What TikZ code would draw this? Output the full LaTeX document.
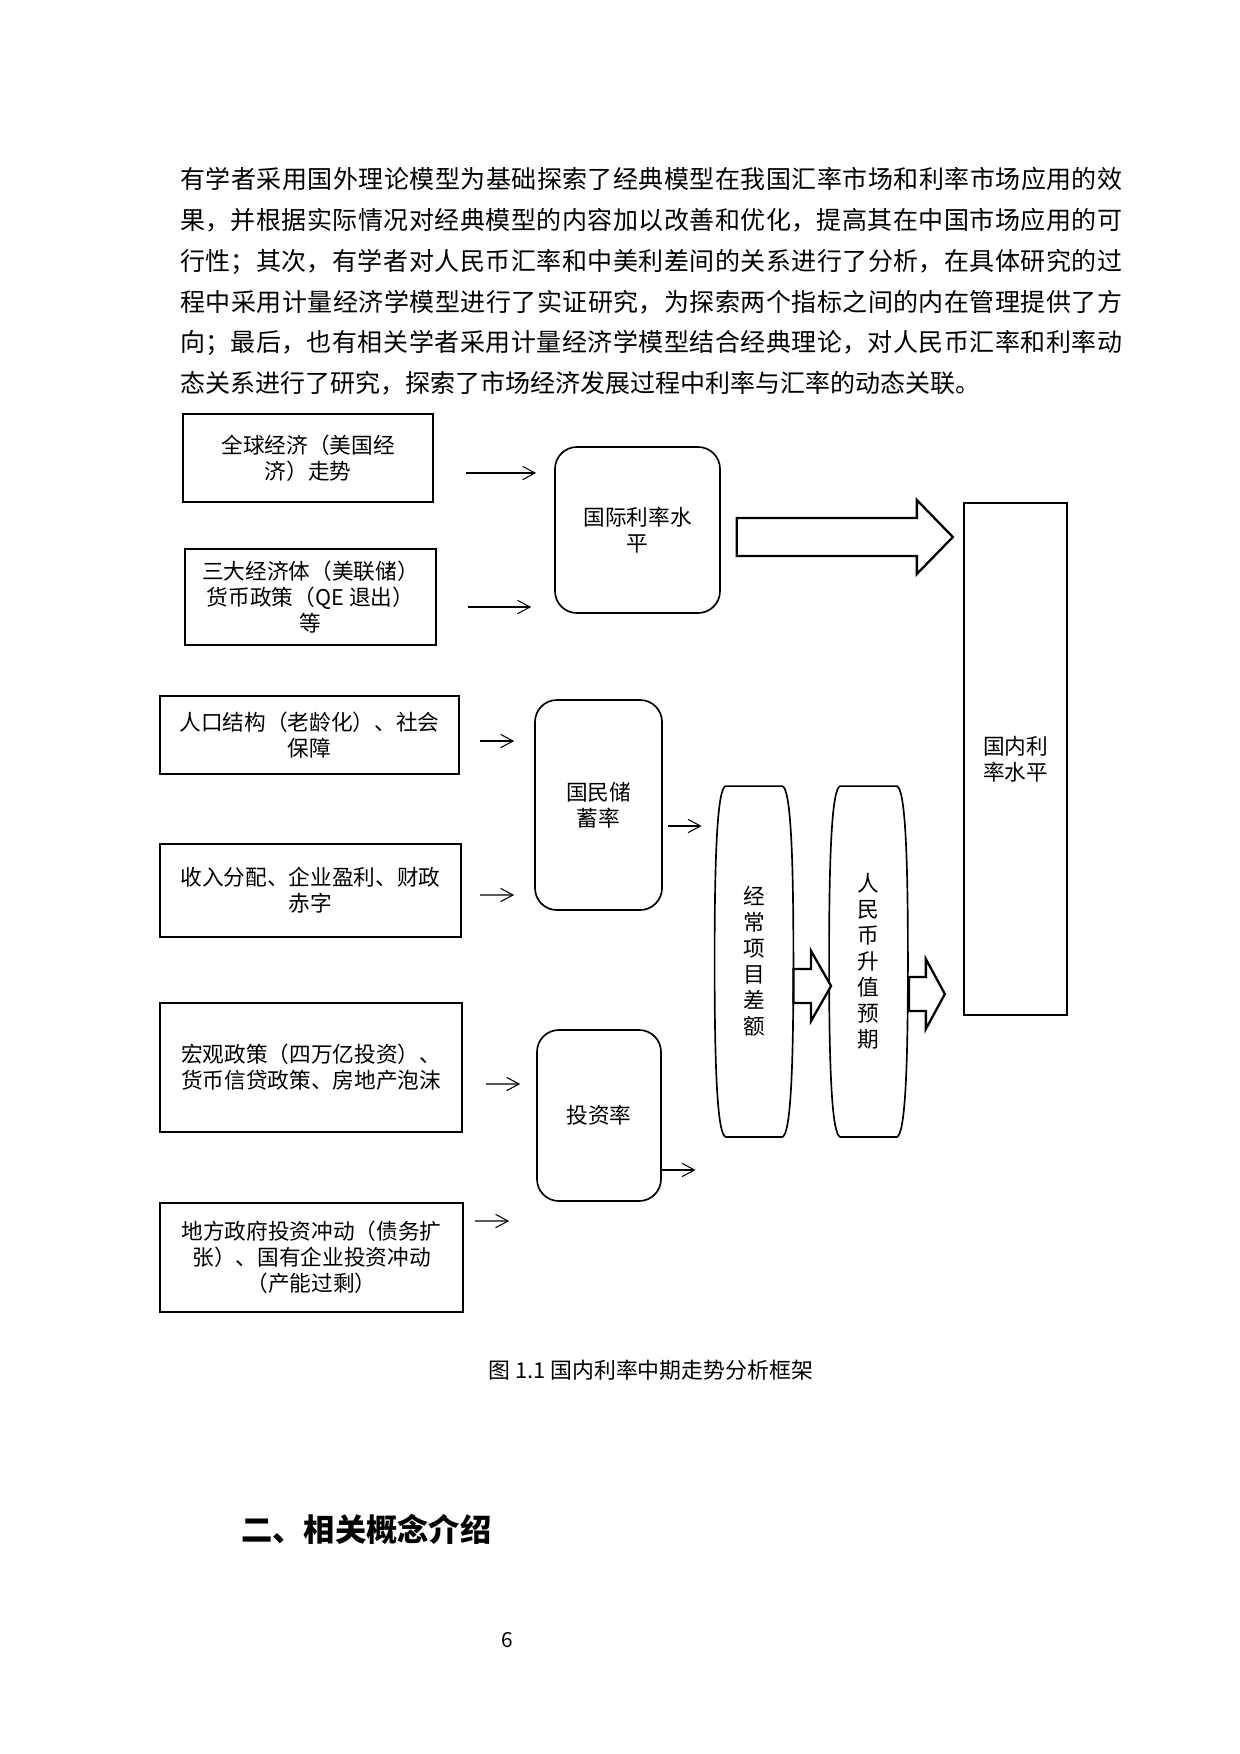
\documentclass[tikz,border=0pt]{standalone}
\usepackage{fontspec}
\setmainfont{Noto Sans CJK SC}
\usetikzlibrary{arrows.meta}
\usetikzlibrary{calc}
\XeTeXlinebreaklocale "zh"
\XeTeXlinebreakskip=0pt plus 1pt
\newcommand{\boxfont}{\fontsize{10.4pt}{12.5pt}\selectfont}
% fat arrow: start, tip, shaft half, head half, head length
\newcommand{\fatarrow}[5]{%
  \draw[fatline] ($(#1)+(0,-#3)$) -- ($(#2)+(-#5,-#3)$) -- ($(#2)+(-#5,-#4)$) -- (#2)
    -- ($(#2)+(-#5,#4)$) -- ($(#2)+(-#5,#3)$) -- ($(#1)+(0,#3)$) -- cycle;}
% barrel outline round a node
\newcommand{\barrel}[1]{%
  \draw[barrelline] ($(#1.north west)+(11,0)$) -- ($(#1.north east)+(-11,0)$)
    .. controls ($(#1.north east)+(-3,3)$) and ($(#1.east)+(0,-112)$) .. (#1.east)
    .. controls ($(#1.east)+(0,112)$) and ($(#1.south east)+(-3,-3)$) .. ($(#1.south east)+(-11,0)$)
    -- ($(#1.south west)+(11,0)$)
    .. controls ($(#1.south west)+(3,-3)$) and ($(#1.west)+(0,112)$) .. (#1.west)
    .. controls ($(#1.west)+(0,-112)$) and ($(#1.north west)+(3,3)$) .. ($(#1.north west)+(11,0)$) -- cycle;}
\begin{document}
\begin{tikzpicture}[x=0.48pt,y=-0.48pt,
    wh/.style 2 args={minimum width=#1*0.48pt,minimum height=#2*0.48pt},
    box/.style={draw,line width=1.1pt,align=center,inner sep=0pt,font=\boxfont},
    roundbox/.style={draw,line width=0.8pt,rounded corners=10.5pt,align=center,inner sep=0pt,font=\boxfont},
    barrelbox/.style={align=center,inner sep=0pt,font=\boxfont,wh={78}{350}},
    barrelline/.style={line width=0.8pt},
    thinarrow/.style={-{Straight Barb[length=6pt,width=6.4pt]},line width=0.5pt},
    fatline/.style={line width=1.1pt,fill=white,line join=miter}]
    \fill[white] (0,0) rectangle (1240,1754);
    \useasboundingbox (0,0) rectangle (1240,1754);

    \node[anchor=base west,text width=942*0.48pt,align=justify,inner sep=0pt,
      font=\fontsize{12pt}{19.6pt}\selectfont] (para) at (180,188.5)
      {有学者采用国外理论模型为基础探索了经典模型在我国汇率市场和利率市场应用的效\linebreak%
果，并根据实际情况对经典模型的内容加以改善和优化，提高其在中国市场应用的可\linebreak%
行性；其次，有学者对人民币汇率和中美利差间的关系进行了分析，在具体研究的过\linebreak%
程中采用计量经济学模型进行了实证研究，为探索两个指标之间的内在管理提供了方\linebreak%
向；最后，也有相关学者采用计量经济学模型结合经典理论，对人民币汇率和利率动\linebreak%
态关系进行了研究，探索了市场经济发展过程中利率与汇率的动态关联。};

    \node[box,wh={250}{88}] (glob) at (308,458) {全球经济（美国经\\济）走势};
    \node[box,wh={251}{96}] (fed) at (310.5,597) {三大经济体（美联储）\\货币政策（QE 退出）\\等};
    \node[roundbox,wh={165}{166}] (intl) at (637.5,530) {国际利率水\\平};
    \node[box,wh={103}{512}] (dom) at (1015.5,759) {国内利\\率水平};

    \node[box,wh={299}{78}] (pop) at (309.5,735) {人口结构（老龄化）、社会\\保障};
    \node[box,wh={301}{93}] (inc) at (310.5,890.5) {收入分配、企业盈利、财政\\赤字};
    \node[roundbox,wh={127}{210}] (sav) at (598.5,805) {国民储\\蓄率};

    \node[box,wh={302}{129}] (macro) at (311,1067.5) {宏观政策（四万亿投资）、\\货币信贷政策、房地产泡沫};
    \node[box,wh={303}{109}] (local) at (311.5,1257.5) {地方政府投资冲动（债务扩\\张）、国有企业投资冲动\\（产能过剩）};
    \node[roundbox,wh={124}{171}] (inv) at (599,1115.5) {投资率};

    \node[barrelbox] (ca) at (754,961.5) {经\\常\\项\\目\\差\\额};
    \node[barrelbox] (rmb) at (868.5,961.5) {人\\民\\币\\升\\值\\预\\期};
    \barrel{ca}
    \barrel{rmb}

    \draw[thinarrow] ([shift={(32,15)}]glob.east) -- ([shift={(-18,-57)}]intl.west);
    \draw[thinarrow] ([shift={(31,10)}]fed.east) -- ([shift={(-23,77)}]intl.west);
    \draw[thinarrow] ([shift={(20,6)}]pop.east) -- ([shift={(-20,-64)}]sav.west);
    \draw[thinarrow] ([shift={(18,4.5)}]inc.east) -- ([shift={(-20,90)}]sav.west);
    \draw[thinarrow] ([shift={(5,21)}]sav.east) -- ([shift={(-13,-135.5)}]ca.west);
    \draw[thinarrow] ([shift={(23,16.5)}]macro.east) -- ([shift={(-16,-31.5)}]inv.west);
    \draw[thinarrow] ([shift={(11,-36.5)}]local.east) -- ([shift={(-27,105.5)}]inv.west);
    \draw[thinarrow] ([shift={(0,54.5)}]inv.east) -- ([shift={(-19,208.5)}]ca.west);

    \coordinate (f1s) at ([shift={(16,7)}]intl.east);
    \coordinate (f1t) at ([shift={(-10,-222)}]dom.west);
    \coordinate (f2s) at ([shift={(0,24.5)}]ca.east);
    \coordinate (f2t) at ([shift={(2,24.5)}]rmb.west);
    \coordinate (f3s) at ([shift={(1,32.5)}]rmb.east);
    \coordinate (f3t) at ([shift={(-18,235)}]dom.west);
    \fatarrow{f1s}{f1t}{19}{37}{36}
    \fatarrow{f2s}{f2t}{17}{35}{20}
    \fatarrow{f3s}{f3t}{17}{35}{19}

    \node[anchor=west,inner sep=0pt,font=\fontsize{10.5pt}{12pt}\selectfont] (cap) at (488,1370)
      {图 1.1 国内利率中期走势分析框架};
    \node[anchor=west,inner sep=0pt,font=\fontsize{15pt}{18pt}\selectfont\bfseries] (sect) at (241,1529)
      {二、相关概念介绍};
    \node[font=\fontsize{10pt}{12pt}\selectfont] (pageno) at (507,1640) {6};
\end{tikzpicture}
\end{document}
